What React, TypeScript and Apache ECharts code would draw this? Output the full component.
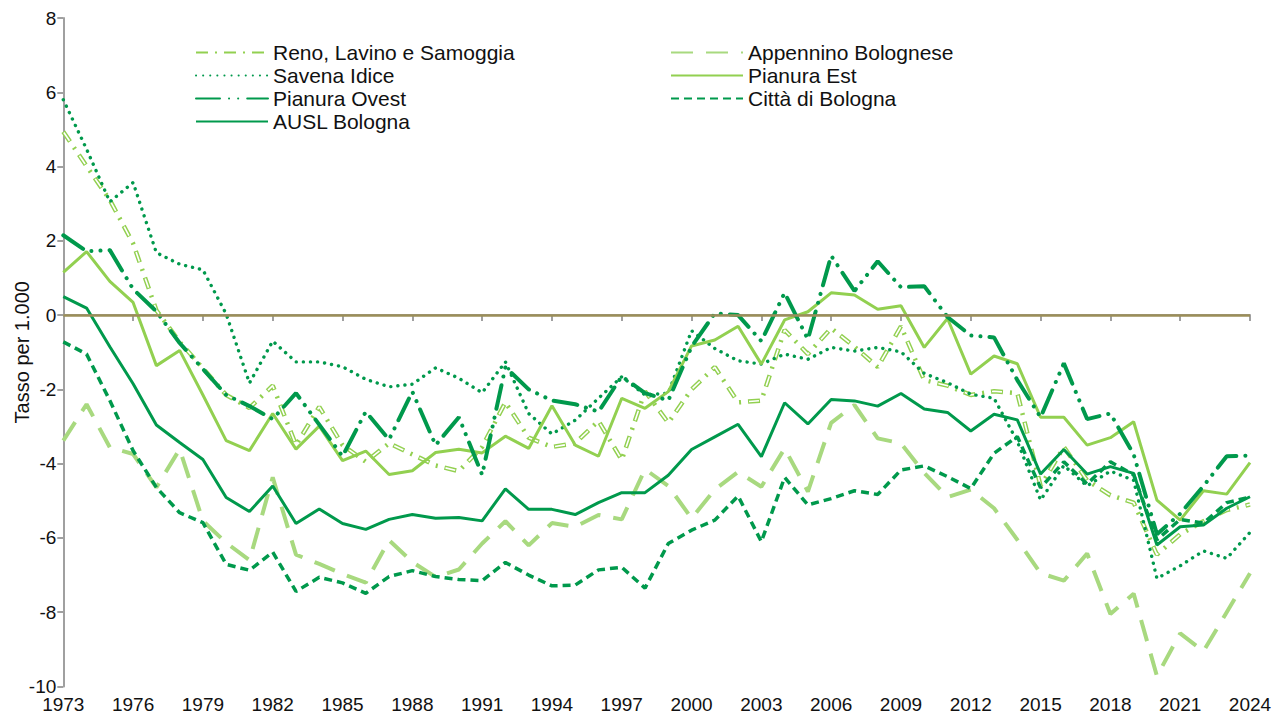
import React, { useEffect, useRef } from "react";
import * as echarts from "echarts";

const years = [
  "1973", "1974", "1975", "1976", "1977", "1978", "1979", "1980", "1981", "1982",
  "1983", "1984", "1985", "1986", "1987", "1988", "1989", "1990", "1991", "1992",
  "1993", "1994", "1995", "1996", "1997", "1998", "1999", "2000", "2001", "2002",
  "2003", "2004", "2005", "2006", "2007", "2008", "2009", "2010", "2011", "2012",
  "2013", "2014", "2015", "2016", "2017", "2018", "2019", "2020", "2021", "2022",
  "2023", "2024",
];

const renoLavinoSamoggia = [
  4.94, 4.01, 3.1, 1.93, 0.13, -0.72, -1.43, -2.15, -2.5, -1.9,
  -3.5, -2.47, -3.5, -3.95, -3.45, -3.75, -4.05, -4.2, -3.55, -2.35,
  -3.3, -3.55, -3.45, -2.85, -3.9, -2.05, -2.9, -2.0, -1.4, -2.35,
  -2.3, -0.4, -1.05, -0.35, -0.85, -1.4, -0.3, -1.75, -1.9, -2.15,
  -2.05, -2.1, -4.6, -3.55, -4.45, -4.85, -5.05, -6.45, -5.9, -5.55,
  -5.25, -5.1,
];

const appenninoBolognese = [
  -3.38, -2.4, -3.56, -3.74, -4.64, -3.61, -5.54, -6.13, -6.6, -4.37,
  -6.45, -6.7, -6.97, -7.2, -6.06, -6.65, -7.05, -6.85, -6.15, -5.55,
  -6.2, -5.6, -5.7, -5.38, -5.5, -4.15, -4.6, -5.47, -4.7, -4.22,
  -4.62, -3.59, -4.75, -2.9, -2.42, -3.32, -3.45, -4.25, -4.9, -4.7,
  -5.2, -6.05, -6.95, -7.15, -6.42, -8.05, -7.5, -9.72, -8.57, -9.05,
  -8.0, -6.95,
];

const savenaIdice = [
  5.8, 4.47, 3.05, 3.57, 1.68, 1.37, 1.22, 0.03, -1.83, -0.7,
  -1.26, -1.26, -1.39, -1.73, -1.93, -1.86, -1.42, -1.7, -2.09, -1.26,
  -2.65, -3.2, -2.83, -2.24, -1.66, -2.15, -2.1, -0.42, -0.9, -1.23,
  -1.32, -1.05, -1.19, -0.87, -0.97, -0.87, -0.99, -1.57, -1.82, -2.13,
  -2.24, -3.4, -4.98, -4.05, -4.6, -4.2, -4.45, -7.09, -6.75, -6.35,
  -6.55, -5.85,
];

const pianuraEst = [
  1.15, 1.71, 0.91, 0.34, -1.36, -0.95, -2.15, -3.38, -3.65, -2.65,
  -3.61, -2.99, -3.92, -3.66, -4.29, -4.19, -3.7, -3.61, -3.71, -3.26,
  -3.59, -2.44, -3.5, -3.8, -2.24, -2.51, -2.06, -0.83, -0.67, -0.3,
  -1.32, -0.13, 0.09, 0.6, 0.54, 0.16, 0.25, -0.87, -0.09, -1.59,
  -1.1, -1.31, -2.75, -2.75, -3.5, -3.3, -2.87, -4.98, -5.52, -4.73,
  -4.82, -3.97,
];

const pianuraOvest = [
  2.15, 1.72, 1.75, 0.7, 0.1, -0.75, -1.45, -2.15, -2.45, -2.8,
  -2.1, -2.95, -3.8, -2.6, -3.35, -2.06, -3.5, -2.75, -4.3, -1.4,
  -2.0, -2.3, -2.4, -2.6, -1.65, -2.1, -2.3, -0.85, 0.05, 0.0,
  -0.7, 0.6, -0.65, 1.6, 0.65, 1.45, 0.75, 0.78, -0.05, -0.55,
  -0.6, -1.75, -2.75, -1.3, -2.8, -2.65, -3.75, -5.9, -5.35, -4.6,
  -3.8, -3.78,
];

const cittaDiBologna = [
  -0.72, -1.05, -2.3, -3.65, -4.64, -5.32, -5.59, -6.71, -6.87, -6.38,
  -7.44, -7.06, -7.21, -7.49, -7.04, -6.88, -7.04, -7.12, -7.15, -6.66,
  -7.0, -7.29, -7.27, -6.86, -6.79, -7.35, -6.15, -5.79, -5.52, -4.87,
  -6.1, -4.37, -5.11, -4.94, -4.73, -4.83, -4.17, -4.06, -4.35, -4.67,
  -3.72, -3.27, -4.65, -3.95, -4.55, -3.95, -4.3, -6.05, -5.5, -5.6,
  -5.05, -4.9,
];

const auslBologna = [
  0.5, 0.19, -0.85, -1.85, -2.96, -3.43, -3.89, -4.91, -5.29, -4.6,
  -5.61, -5.22, -5.61, -5.77, -5.5, -5.37, -5.47, -5.45, -5.54, -4.68,
  -5.23, -5.23, -5.37, -5.05, -4.78, -4.78, -4.31, -3.62, -3.28, -2.94,
  -3.81, -2.36, -2.93, -2.27, -2.31, -2.45, -2.11, -2.53, -2.62, -3.12,
  -2.67, -2.82, -4.28, -3.62, -4.28, -4.08, -4.26, -6.19, -5.7, -5.65,
  -5.2, -4.89,
];

const DARK = "#00994C";
const LIGHT = "#92D050";
const PALE = "#A8D97F";
const ZERO = "#9B8E58";
const AXIS = "#A0A0A0";
const FONT = "'Liberation Sans', Arial, sans-serif";

const leftLegend = ["Reno, Lavino e Samoggia", "Savena Idice", "Pianura Ovest", "AUSL Bologna"];
const rightLegend = ["Appennino Bolognese", "Pianura Est", "Città di Bologna"];

export default function App() {
  const ref = useRef<HTMLDivElement>(null);

  useEffect(() => {
    if (!ref.current) return;
    const chart = echarts.init(ref.current, null, { renderer: "svg" });

    const base = {
      type: "line",
      symbol: "none",
      showSymbol: false,
      smooth: false,
      silent: true,
      emphasis: { disabled: true },
    };

    const legendCommon = {
      orient: "vertical",
      top: 37,
      itemWidth: 72,
      itemHeight: 14,
      itemGap: 2,
      selectedMode: false,
      itemStyle: { opacity: 0 },
      textStyle: { fontFamily: FONT, fontSize: 21, color: "#111", lineHeight: 21 },
    };

    chart.setOption({
      animation: false,
      backgroundColor: "#ffffff",
      grid: { left: 63.3, right: 32, top: 18, bottom: 35.5, containLabel: false },
      legend: [
        { ...legendCommon, left: 190, data: leftLegend },
        { ...legendCommon, left: 665, data: rightLegend },
      ],
      xAxis: {
        type: "category",
        data: years,
        boundaryGap: false,
        axisLine: { show: true, lineStyle: { color: AXIS, width: 2 } },
        axisTick: { show: true, interval: 2, length: 6, lineStyle: { color: AXIS, width: 2 } },
        axisLabel: { interval: 2, fontFamily: FONT, fontSize: 19, color: "#111", margin: 8 },
        splitLine: { show: false },
      },
      yAxis: {
        type: "value",
        min: -10,
        max: 8,
        interval: 2,
        name: "Tasso per 1.000",
        nameLocation: "middle",
        nameRotate: 90,
        nameGap: 31,
        nameMoveOverlap: false,
        nameTextStyle: { fontFamily: FONT, fontSize: 20, color: "#111" },
        axisLine: { show: true, lineStyle: { color: AXIS, width: 2 } },
        axisTick: { show: true, length: 6, lineStyle: { color: AXIS, width: 2 } },
        axisLabel: { fontFamily: FONT, fontSize: 19, color: "#111", margin: 7 },
        splitLine: { show: false },
      },
      series: [
        {
          ...base,
          name: "Appennino Bolognese",
          data: appenninoBolognese,
          itemStyle: { color: PALE },
          lineStyle: { color: PALE, width: 4, type: [22, 13] },
          markLine: {
            silent: true,
            symbol: ["none", "none"],
            label: { show: false },
            emphasis: { disabled: true },
            lineStyle: { color: ZERO, width: 2.5, type: "solid" },
            data: [{ yAxis: 0 }],
          },
        },
        {
          ...base,
          name: "Reno, Lavino e Samoggia",
          data: renoLavinoSamoggia,
          itemStyle: { color: LIGHT },
          lineStyle: { color: LIGHT, width: 4.5, type: [12, 7, 2, 7] },
        },
        {
          ...base,
          name: "Reno inner",
          data: renoLavinoSamoggia,
          itemStyle: { color: "#ffffff" },
          lineStyle: { color: "#ffffff", width: 1.6, type: [10, 18], dashOffset: -1 },
        },
        {
          ...base,
          name: "Savena Idice",
          data: savenaIdice,
          itemStyle: { color: DARK },
          lineStyle: { color: DARK, width: 3.4, type: [0.1, 7], cap: "round" },
        },
        {
          ...base,
          name: "Pianura Est",
          data: pianuraEst,
          itemStyle: { color: LIGHT },
          lineStyle: { color: LIGHT, width: 3, type: "solid" },
        },
        {
          ...base,
          name: "Pianura Ovest",
          data: pianuraOvest,
          itemStyle: { color: DARK },
          lineStyle: { color: DARK, width: 4, type: [24, 9, 0.1, 9, 0.1, 9], cap: "round" },
        },
        {
          ...base,
          name: "Città di Bologna",
          data: cittaDiBologna,
          itemStyle: { color: DARK },
          lineStyle: { color: DARK, width: 3.5, type: [8, 5] },
        },
        {
          ...base,
          name: "AUSL Bologna",
          data: auslBologna,
          itemStyle: { color: DARK },
          lineStyle: { color: DARK, width: 3, type: "solid" },
        },
      ],
    });

    return () => chart.dispose();
  }, []);

  return (
    <div
      ref={ref}
      style={{ position: "absolute", left: 0, top: 0, width: 1282, height: 722, background: "#fff" }}
    />
  );
}
